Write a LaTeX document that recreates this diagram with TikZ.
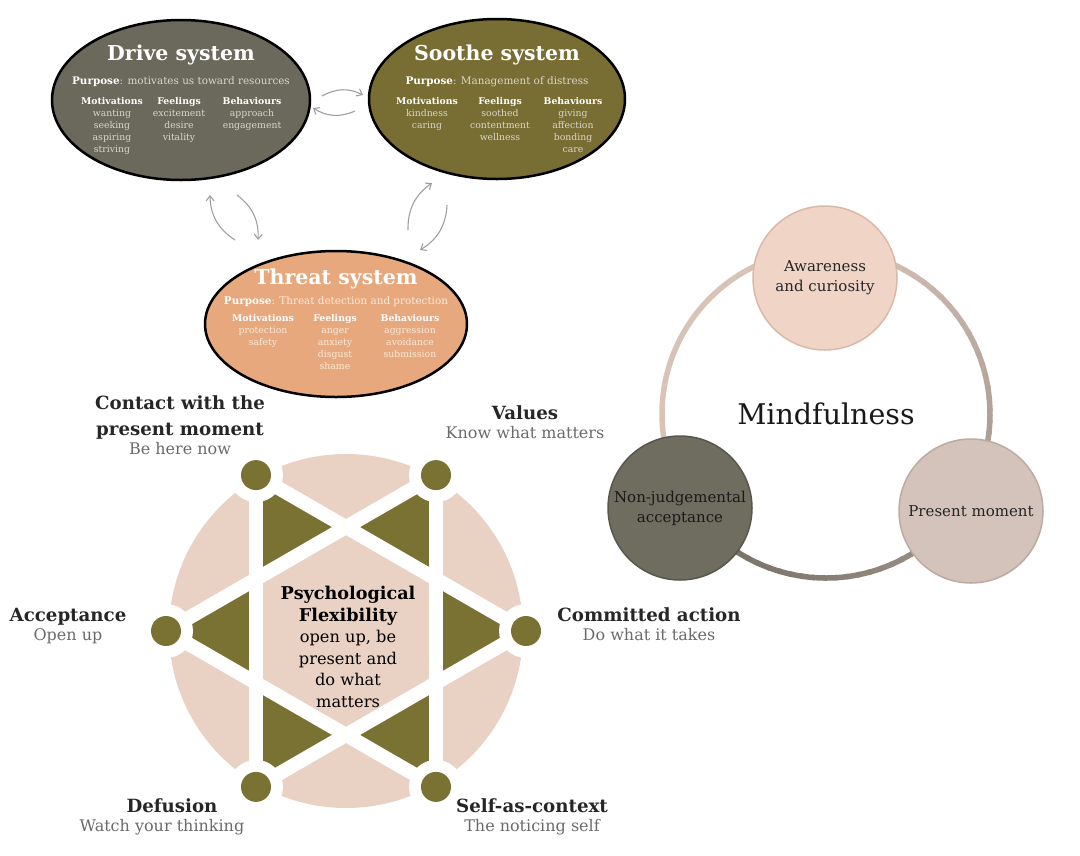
\documentclass[tikz,border=0pt]{standalone}
\usepackage{fontspec}
\setmainfont{DejaVu Serif}
\usetikzlibrary{shapes.geometric,arrows.meta,positioning}

\definecolor{driveclr}{HTML}{6B695C}
\definecolor{sootheclr}{HTML}{786E34}
\definecolor{threatclr}{HTML}{E6A87C}
\definecolor{driveitem}{HTML}{DAD6CB}
\definecolor{threatitem}{HTML}{FBEADC}
\definecolor{flexpink}{HTML}{E9D1C4}
\definecolor{flexolive}{HTML}{7A7233}
\definecolor{subgrey}{HTML}{6A6A6A}
\definecolor{ringpink}{HTML}{D9C3B7}
\definecolor{ringdark}{HTML}{6B675D}
\definecolor{awarefill}{HTML}{F0D4C6}
\definecolor{awareline}{HTML}{D9B9A9}
\definecolor{nonjfill}{HTML}{6E6D5F}
\definecolor{nonjline}{HTML}{58574B}
\definecolor{presfill}{HTML}{D4C3BA}
\definecolor{presline}{HTML}{BDAAA0}

\tikzset{
  sysoval/.style={ellipse, draw=black, line width=2.5pt, inner sep=0},
  sysname/.style={font=\bfseries\fontsize{20.5}{24}\selectfont, text=white, inner sep=0},
  syspurp/.style={font=\fontsize{10.4}{12}\selectfont, inner sep=0},
  syscol/.style={anchor=north, align=center, inner sep=0, font=\fontsize{9.3}{12}\selectfont},
  loopy/.style={draw=gray!75, line width=1.1pt, -{Straight Barb[length=5pt,width=8pt]}, bend left=28},
  actbase/.style={font=\bfseries\fontsize{18.2}{26}\selectfont, text=black!85, align=center, inner sep=0},
  acthead/.style={actbase, text height=13pt, text depth=4pt},
  actsub/.style={font=\fontsize{16}{18}\selectfont, text=subgrey, inner sep=0, text height=12pt, text depth=4pt},
  mcirc/.style={circle, minimum size=144pt, line width=1.5pt, align=center, inner sep=0,
    font=\fontsize{15}{20}\selectfont, text=black!85},
}

\begin{document}
\begin{tikzpicture}[x=1pt,y=-1pt]
\useasboundingbox (0,0) rectangle (1080,855);

% three systems
\begin{scope}[shift={(181,100)}]
  \node[sysoval, fill=driveclr, minimum width=258pt, minimum height=160pt] (drive) at (0,0) {};
  \node[sysname] (drivename) at (0,-45) {Drive system};
  \node[syspurp, text=driveitem] (drivepurp) at (0,-18) {\textcolor{white}{\bfseries Purpose}: motivates us toward resources};
  \node[syscol, text=driveitem] (drivemot) at (-69,-3) {\textcolor{white}{\bfseries Motivations}\\wanting\\seeking\\aspiring\\striving};
  \node[syscol, text=driveitem] (drivefeel) at (-2,-3) {\textcolor{white}{\bfseries Feelings}\\excitement\\desire\\vitality};
  \node[syscol, text=driveitem] (drivebeh) at (71,-3) {\textcolor{white}{\bfseries Behaviours}\\approach\\engagement};
\end{scope}

\begin{scope}[shift={(497,99)}]
  \node[sysoval, fill=sootheclr, minimum width=256pt, minimum height=160pt] (soothe) at (0,0) {};
  \node[sysname] (soothename) at (0,-44) {Soothe system};
  \node[syspurp, text=driveitem] (soothepurp) at (0,-17) {\textcolor{white}{\bfseries Purpose}: Management of distress};
  \node[syscol, text=driveitem] (soothemot) at (-70,-2) {\textcolor{white}{\bfseries Motivations}\\kindness\\caring};
  \node[syscol, text=driveitem] (soothefeel) at (3,-2) {\textcolor{white}{\bfseries Feelings}\\soothed\\contentment\\wellness};
  \node[syscol, text=driveitem] (soothebeh) at (76,-2) {\textcolor{white}{\bfseries Behaviours}\\giving\\affection\\bonding\\care};
\end{scope}

\begin{scope}[shift={(336,324)}]
  \node[sysoval, fill=threatclr, minimum width=262pt, minimum height=146pt] (threat) at (0,0) {};
  \node[sysname] (threatname) at (0,-45) {Threat system};
  \node[syspurp, text=threatitem] (threatpurp) at (0,-22) {\textcolor{white}{\bfseries Purpose}: Threat detection and protection};
  \node[syscol, text=threatitem] (threatmot) at (-73,-10) {\textcolor{white}{\bfseries Motivations}\\protection\\safety};
  \node[syscol, text=threatitem] (threatfeel) at (-1,-10) {\textcolor{white}{\bfseries Feelings}\\anger\\anxiety\\disgust\\shame};
  \node[syscol, text=threatitem] (threatbeh) at (74,-10) {\textcolor{white}{\bfseries Behaviours}\\aggression\\avoidance\\submission};
\end{scope}

% loops between the systems
\coordinate (ds1) at (322,96);  \coordinate (ds2) at (363,95);
\coordinate (sd1) at (355,111); \coordinate (sd2) at (313,108);
\coordinate (td1) at (235,240); \coordinate (td2) at (210,195);
\coordinate (dt1) at (237,195); \coordinate (dt2) at (258,240);
\coordinate (ts1) at (408,230); \coordinate (ts2) at (432,183);
\coordinate (st1) at (447,205); \coordinate (st2) at (420,250);
\foreach \p/\q in {ds1/ds2, sd1/sd2, td1/td2, dt1/dt2, ts1/ts2, st1/st2}
  \draw[loopy] (\p) to (\q);

% hexaflex
\begin{scope}[shift={(346,631)}]
  \fill[flexpink] (0,0) circle[radius=177pt];
  \foreach \a in {0,60,...,300}
    \fill[flexolive] (\a:180) -- (\a+30:104) -- (\a-30:104) -- cycle;
  \foreach \a in {0,60,...,300}
    \draw[white, line width=14pt] (\a:180) -- (\a+120:180);
  \foreach \a in {0,60,...,300} {
    \fill[white] (\a:180) circle[radius=27pt];
    \fill[flexolive] (\a:180) circle[radius=15pt];
  }
\end{scope}
\node[align=center, inner sep=0, font=\fontsize{16.2}{21.5}\selectfont] (flexcore) at (348,647)
  {\fontsize{17.6}{21.5}\selectfont\bfseries Psychological\\\fontsize{17.6}{21.5}\selectfont\bfseries Flexibility\\open up, be\\present and\\do what\\matters};

\node[actbase] (contact) at (180,417) {Contact with the\\present moment};
\node[actsub, below=3pt of contact] (contactsub) {Be here now};
\node[acthead] (values) at (525,415) {Values};
\node[actsub, below=3pt of values] (valuessub) {Know what matters};
\node[acthead] (accept) at (68,617) {Acceptance};
\node[actsub, below=3pt of accept] (acceptsub) {Open up};
\node[acthead] (commit) at (649,617) {Committed action};
\node[actsub, below=3pt of commit] (commitsub) {Do what it takes};
\node[acthead] (defuse) at (172,808) {Defusion};
\node[actsub, below=3pt of defuse, xshift=-10pt] (defusesub) {Watch your thinking};
\node[acthead] (selfctx) at (532,808) {Self-as-context};
\node[actsub, below=3pt of selfctx] (selfctxsub) {The noticing self};

% mindfulness ring
\coordinate (ring) at (826,414);
\draw[line width=5.5pt, ringpink] (ring) ++(90:164pt) arc[start angle=90, end angle=212, radius=164pt];
\foreach \a in {90,86,...,-150} {
  \pgfmathtruncatemacro\t{(90-\a)/240*100}
  \draw[line width=5.5pt, ringdark!\t!ringpink] (ring) ++(\a:164pt) arc[start angle=\a, end angle=\a-5, radius=164pt];
}
\node[font=\fontsize{28.5}{32}\selectfont, text=black!90] (mind) at (ring) {Mindfulness};
\node[mcirc, fill=awarefill, draw=awareline] (aware) at (825,278) {Awareness\\and curiosity};
\node[mcirc, fill=nonjfill, draw=nonjline, text=black!90] (nonj) at (680,508) {Non-judgemental\\acceptance};
\node[mcirc, fill=presfill, draw=presline] (present) at (971,511) {Present moment};
\end{tikzpicture}
\end{document}
